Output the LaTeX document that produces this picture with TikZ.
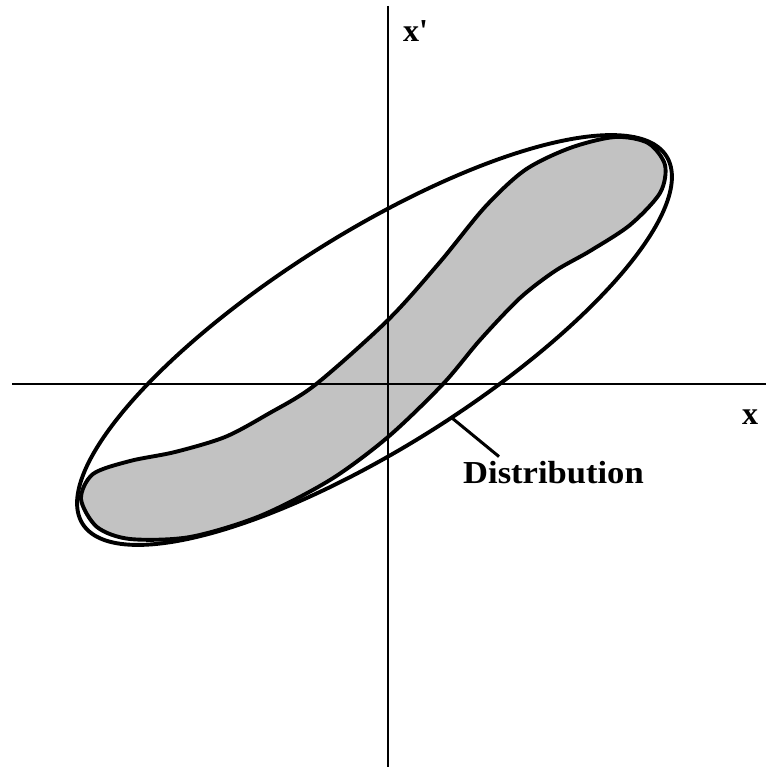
\documentclass[tikz,border=0pt]{standalone}
\usepackage{fontspec}
\setmainfont{Liberation Serif}[Ligatures=TeXOff]
\begin{document}
\begin{tikzpicture}[x=1pt,y=-1pt,
  axis/.style={line width=2.8pt,black},
  outline/.style={line width=3.9pt,black,line join=round},
  lbl/.style={font=\fontsize{32}{36}\selectfont\bfseries,inner sep=0pt,anchor=base west},
  leader/.style={line width=3pt,black}]
\useasboundingbox (0,0) rectangle (766,767);
\def\distpath{plot[smooth cycle,tension=0.5] coordinates{
  (81,499) (93,474) (130,461) (175,452) (225,437) (268,414) (315,385)
  (388,320) (440,262) (485,207) (525,170) (570,148) (615,137) (648,143)
  (665,165) (660,193) (630,225) (590,251) (555,271) (520,298) (480,340)
  (443,384) (388,437) (330,480) (260,516) (190,537) (130,539) (97,527)}}
% gray distribution
\fill[fill={rgb,255:red,194;green,194;blue,194}] \distpath;
% axes
\coordinate (ytop) at (388,6);
\coordinate (ybot) at (388,767);
\coordinate (xl) at (12,384);
\coordinate (xr) at (766,384);
\draw[axis] (ytop) -- (ybot);
\draw[axis] (xl) -- (xr);
% gray outline
\draw[outline] \distpath;
% ellipse
\draw[outline] plot[domain=0:360,samples=240,smooth cycle]
  ({374.5 + 345*cos(\x)*cos(32.2) + 107*sin(\x)*sin(32.2)},
   {340 - 345*cos(\x)*sin(32.2) + 107*sin(\x)*cos(32.2)});
% labels
\node[lbl] (xp) at (403,42) {x'};
\node[lbl] (xx) at (742,424) {x};
\node[lbl] (dist) at (463,483) {\scalebox{1.08}[1]{Distribution}};
\coordinate (lead) at (452,418);
\draw[leader] (lead) -- ([xshift=36pt,yshift=4pt]dist.north west);
\end{tikzpicture}
\end{document}
